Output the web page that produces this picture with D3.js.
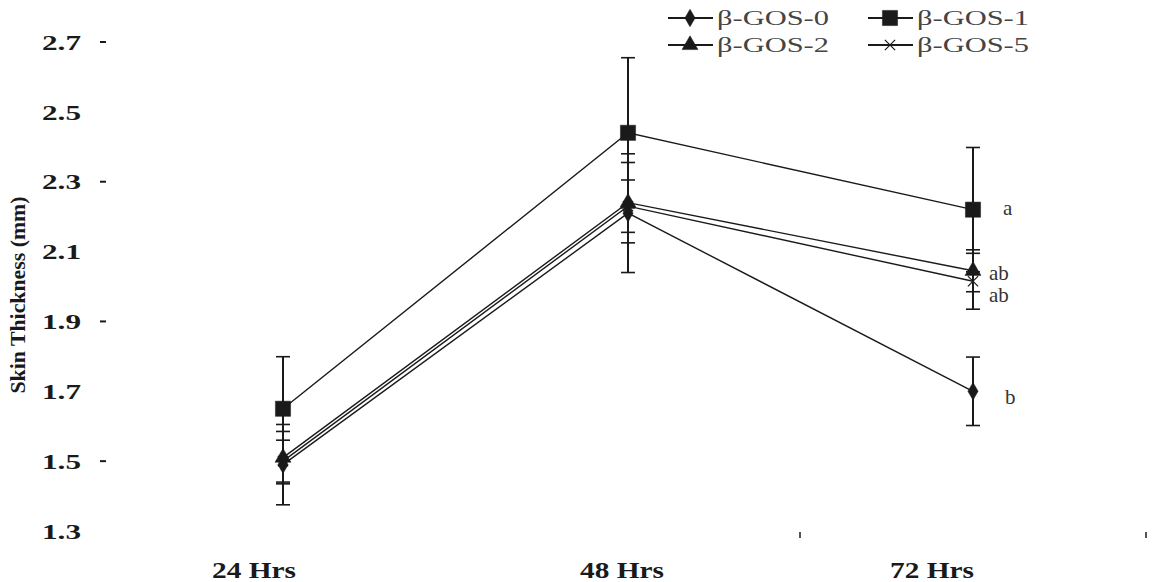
<!DOCTYPE html>
<html>
<head>
<meta charset="utf-8">
<script src="https://cdn.jsdelivr.net/npm/d3@7/dist/d3.min.js"></script>
<style>
html,body{margin:0;padding:0;background:#fff;}
svg{display:block;}
</style>
</head>
<body>
<svg id="chart" width="1160" height="582"></svg>
<script>
const categories = ["24 Hrs", "48 Hrs", "72 Hrs"];
const yTicks = [1.3, 1.5, 1.7, 1.9, 2.1, 2.3, 2.5, 2.7];
const yTickDashes = [1.5, 1.9, 2.3, 2.7];
const seriesNames = ["β-GOS-0", "β-GOS-1", "β-GOS-2", "β-GOS-5"];
const gos0 = [1.49, 2.21, 1.70];
const gos0Err = [0.115, 0.17, 0.098];
const gos1 = [1.65, 2.44, 2.22];
const gos1Err = [0.149, 0.215, 0.178];
const gos2 = [1.51, 2.24, 2.045];
const gos2Err = [0.075, 0.115, 0.06];
const gos5 = [1.50, 2.23, 2.015];
const gos5Err = [0.06, 0.075, 0.08];
const letters72 = ["b", "a", "ab", "ab"];
const yTitle = "Skin Thickness (mm)";

const series = [
  {name: seriesNames[0], vals: gos0, err: gos0Err, sym: d3.symbolDiamond, size: 90, letter: letters72[0], ldx: 32, ldy: 13},
  {name: seriesNames[1], vals: gos1, err: gos1Err, sym: d3.symbolSquare, size: 230, letter: letters72[1], ldx: 30, ldy: 5},
  {name: seriesNames[2], vals: gos2, err: gos2Err, sym: d3.symbolTriangle, size: 110, letter: letters72[2], ldx: 16, ldy: 9},
  {name: seriesNames[3], vals: gos5, err: gos5Err, sym: d3.symbolTimes, size: 70, letter: letters72[3], ldx: 16, ldy: 21}
];

const svg = d3.select("#chart");
const ink = "#1a1a1a";
const serif = "'Liberation Serif','Times New Roman',serif";

const x = d3.scalePoint().domain(categories).range([283, 973]);
const y = d3.scaleLinear().domain([1.3, 2.7]).range([531, 42]);

// Y tick labels
svg.append("g").selectAll("text").data(yTicks).join("text")
  .attr("x", 42).attr("y", d => y(d)).attr("dy", "0.35em")
  .attr("font-family", serif).attr("font-weight", "bold").attr("font-size", 22)
  .attr("textLength", 39).attr("lengthAdjust", "spacingAndGlyphs")
  .attr("fill", ink).text(d => d.toFixed(1));
svg.append("g").selectAll("line").data(yTickDashes).join("line")
  .attr("x1", 100).attr("x2", 106).attr("y1", d => y(d)).attr("y2", d => y(d))
  .attr("stroke", ink).attr("stroke-width", 2);

// Y title
svg.append("text")
  .attr("transform", `translate(25,295) rotate(-90)`)
  .attr("text-anchor", "middle")
  .attr("font-family", serif).attr("font-weight", "bold").attr("font-size", 21)
  .attr("textLength", 197).attr("lengthAdjust", "spacingAndGlyphs")
  .attr("fill", ink).text(yTitle);

// X labels
const xl = d3.scalePoint().domain(categories).range([254, 932]);
svg.append("g").selectAll("text").data(categories).join("text")
  .attr("x", (d, i) => i === 1 ? x(d) - 6 : xl(d)).attr("y", 578)
  .attr("text-anchor", "middle")
  .attr("font-family", serif).attr("font-weight", "bold").attr("font-size", 23)
  .attr("textLength", 84).attr("lengthAdjust", "spacingAndGlyphs")
  .attr("fill", ink).text(d => d);

// little marks near bottom
svg.append("g").selectAll("line").data([x(categories[2]) - 173, x(categories[2]) + 173]).join("line")
  .attr("x1", d => d).attr("x2", d => d).attr("y1", 532).attr("y2", 538)
  .attr("stroke", ink).attr("stroke-width", 1.5);

// Error bars
const eg = svg.append("g");
series.forEach(s => {
  s.vals.forEach((v, i) => {
    const cx = x(categories[i]);
    const e = s.err[i];
    eg.append("line").attr("x1", cx).attr("x2", cx)
      .attr("y1", y(v + e)).attr("y2", y(v - e))
      .attr("stroke", ink).attr("stroke-width", 2);
    [v + e, v - e].forEach(t => {
      eg.append("line").attr("x1", cx - 7).attr("x2", cx + 7)
        .attr("y1", y(t)).attr("y2", y(t))
        .attr("stroke", ink).attr("stroke-width", 1.6);
    });
  });
});

// Lines
const line = d3.line().x((d, i) => x(categories[i])).y(d => y(d));
svg.append("g").selectAll("path").data(series).join("path")
  .attr("d", s => line(s.vals)).attr("fill", "none")
  .attr("stroke", ink).attr("stroke-width", 1.4);

// Markers
series.forEach(s => {
  const sym = d3.symbol().type(s.sym).size(s.size);
  const isTimes = s.sym === d3.symbolTimes;
  svg.append("g").selectAll("path").data(s.vals).join("path")
    .attr("transform", (d, i) => `translate(${x(categories[i])},${y(d)})`)
    .attr("d", sym)
    .attr("fill", isTimes ? "none" : ink)
    .attr("stroke", ink).attr("stroke-width", isTimes ? 1.2 : 0.5);
});

// Significance letters
svg.append("g").selectAll("text").data(series).join("text")
  .attr("x", s => x(categories[2]) + s.ldx)
  .attr("y", s => y(s.vals[2]) + s.ldy)
  .attr("font-family", serif).attr("font-size", 21)
  .attr("fill", "#333").text(s => s.letter);

// Legend
const legPos = [[668, 18], [868, 18], [668, 45], [868, 45]];
const lg = svg.append("g");
series.forEach((s, i) => {
  const [lx, ly] = legPos[i];
  lg.append("line").attr("x1", lx).attr("x2", lx + 45).attr("y1", ly).attr("y2", ly)
    .attr("stroke", ink).attr("stroke-width", 2);
  const isTimes = s.sym === d3.symbolTimes;
  lg.append("path").attr("transform", `translate(${lx + 22},${ly})`)
    .attr("d", d3.symbol().type(s.sym).size(s.size))
    .attr("fill", isTimes ? "none" : ink).attr("stroke", ink).attr("stroke-width", isTimes ? 1.2 : 0.5);
  lg.append("text").attr("x", lx + 49).attr("y", ly).attr("dy", "0.35em")
    .attr("font-family", serif).attr("font-size", 20).attr("fill", "#444")
    .attr("textLength", 112).attr("lengthAdjust", "spacingAndGlyphs")
    .text(s.name);
});
</script>
</body>
</html>
